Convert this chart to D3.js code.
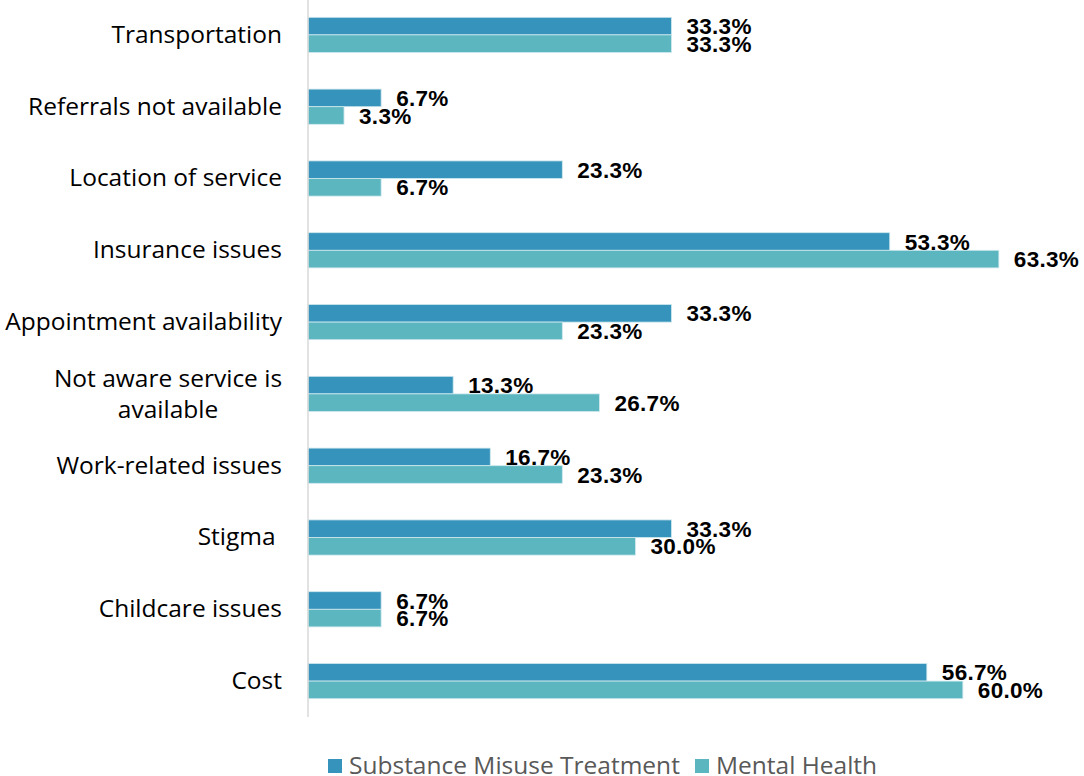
<!DOCTYPE html>
<html>
<head>
<meta charset="utf-8">
<script src="https://cdn.jsdelivr.net/npm/d3@7"></script>
<style>
  html, body { margin: 0; padding: 0; background: #fff; }
  svg { display: block; }
</style>
</head>
<body>
<svg id="chart" width="1084" height="776"></svg>
<script>
// Barriers to care, share of respondents (%), listed top to bottom
const categories = [
  "Transportation",
  "Referrals not available",
  "Location of service",
  "Insurance issues",
  "Appointment availability",
  "Not aware service is available",
  "Work-related issues",
  "Stigma ",
  "Childcare issues",
  "Cost"
];
const seriesNames = ["Substance Misuse Treatment", "Mental Health"];
const substanceMisuse = [33.3, 6.7, 23.3, 53.3, 33.3, 13.3, 16.7, 33.3, 6.7, 56.7];
const mentalHealth    = [33.3, 3.3, 6.7, 63.3, 23.3, 26.7, 23.3, 30.0, 6.7, 60.0];
const seriesColors = ["#3693bb", "#5bb6c0"];

const svg = d3.select("#chart");
const axisX = 308;
const labelFont = "'Open Sans', 'Noto Sans', sans-serif";

const x = d3.scaleLinear().domain([0, 70]).range([axisX, axisX + 764]);
const y = d3.scaleBand().domain(categories).range([-1, 717]).paddingInner(0.51).paddingOuter(0.255);
const ySub = d3.scaleBand().domain(seriesNames).range([0, y.bandwidth()]);

const rows = categories.map((c, i) => ({ cat: c, values: [substanceMisuse[i], mentalHealth[i]] }));

const groups = svg.append("g").selectAll("g")
  .data(rows).join("g")
  .attr("transform", d => `translate(0,${y(d.cat)})`);

groups.selectAll("rect")
  .data(d => d.values.map((v, j) => ({ v, s: seriesNames[j], j })))
  .join("rect")
  .attr("x", x(0))
  .attr("y", d => ySub(d.s))
  .attr("width", d => x(d.v) - x(0))
  .attr("height", ySub.bandwidth())
  .attr("fill", d => seriesColors[d.j])
  .attr("stroke", "#cfe8ee")
  .attr("stroke-width", 0.8);

groups.selectAll("text.val")
  .data(d => d.values.map((v, j) => ({ v, s: seriesNames[j], j })))
  .join("text")
  .attr("class", "val")
  .attr("x", d => x(d.v) + 15)
  .attr("y", d => ySub(d.s) + ySub.bandwidth() / 2)
  .attr("dy", "0.36em")
  .attr("font-family", "'Liberation Sans', Arial, sans-serif")
  .attr("font-weight", "bold")
  .attr("font-size", 22.5)
  .attr("letter-spacing", 0.3)
  .attr("fill", "#000")
  .text(d => d.v.toFixed(1) + "%");

// Category axis
const yAxis = d3.axisLeft(y).tickSize(0).tickPadding(0);
const axisG = svg.append("g").attr("transform", "translate(282,0)").call(yAxis);
axisG.select(".domain").remove();
axisG.selectAll(".tick text")
  .attr("font-family", labelFont)
  .attr("font-size", 24.5)
  .attr("fill", "#000")
  .style("white-space", "pre")
  .each(function(d) {
    const t = d3.select(this);
    if (d === "Not aware service is available") {
      t.text(null).attr("text-anchor", "middle").attr("dy", null);
      t.append("tspan").attr("x", -114).attr("dy", "-0.3em").text("Not aware service is");
      t.append("tspan").attr("x", -114).attr("dy", "1.27em").text("available");
    }
  });

// Vertical baseline
svg.append("line")
  .attr("x1", axisX).attr("x2", axisX)
  .attr("y1", 0).attr("y2", 717)
  .attr("stroke", "#d9d9d9").attr("stroke-width", 1.5);

// Legend
const legend = svg.append("g").attr("transform", "translate(328,766)");
const legendX = [0, 367];
seriesNames.forEach((name, i) => {
  const g = legend.append("g").attr("transform", `translate(${legendX[i]},0)`);
  g.append("rect").attr("x", 0).attr("y", -7).attr("width", 14).attr("height", 14).attr("fill", seriesColors[i]);
  g.append("text")
    .attr("x", 21).attr("y", 0).attr("dy", "0.34em")
    .attr("font-family", labelFont)
    .attr("font-size", 24.5)
    .attr("fill", "#595959")
    .text(name);
});
</script>
</body>
</html>
